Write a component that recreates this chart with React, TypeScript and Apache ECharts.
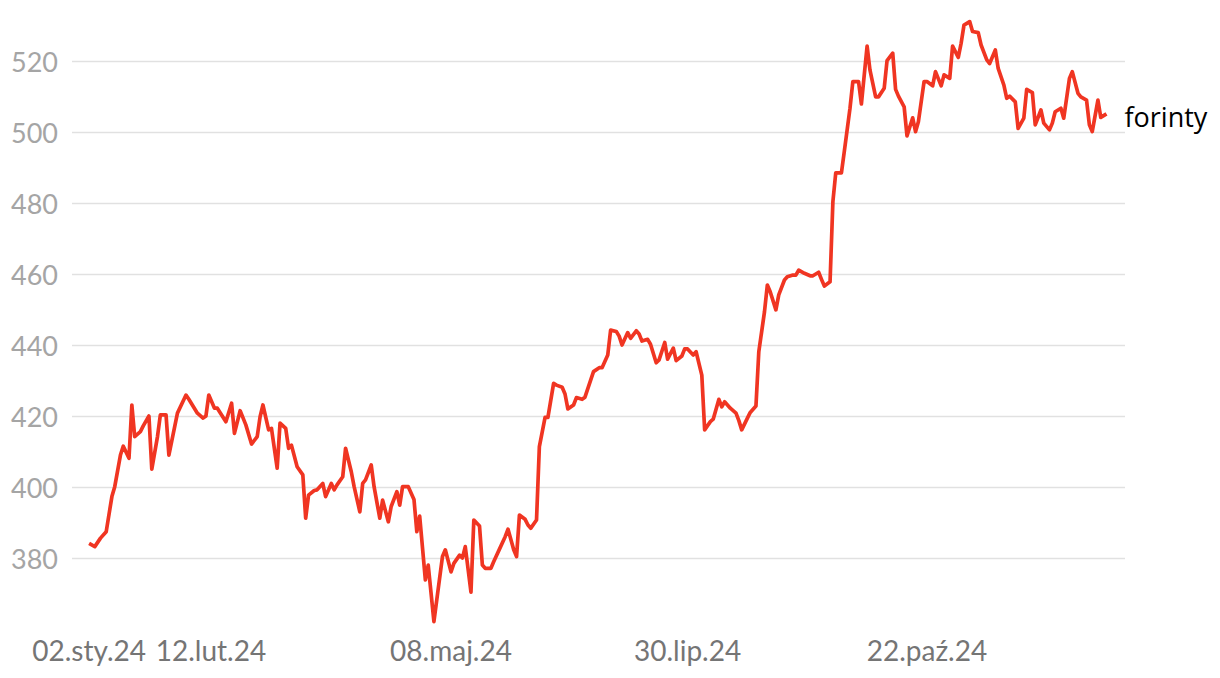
import React, { useEffect, useRef } from "react";
import * as echarts from "echarts";

const dates: string[] = [
  "2024-01-02","2024-01-04","2024-01-06","2024-01-08","2024-01-10","2024-01-11","2024-01-13","2024-01-14","2024-01-16","2024-01-17",
  "2024-01-18","2024-01-20","2024-01-21","2024-01-23","2024-01-24","2024-01-26","2024-01-27","2024-01-29","2024-01-30","2024-02-02",
  "2024-02-05","2024-02-06","2024-02-09","2024-02-11","2024-02-12","2024-02-13","2024-02-15","2024-02-16","2024-02-19","2024-02-21",
  "2024-02-22","2024-02-24","2024-02-26","2024-02-28","2024-03-01","2024-03-02","2024-03-03","2024-03-05","2024-03-06","2024-03-08",
  "2024-03-09","2024-03-11","2024-03-12","2024-03-13","2024-03-15","2024-03-17","2024-03-18","2024-03-19","2024-03-21","2024-03-22",
  "2024-03-24","2024-03-25","2024-03-27","2024-03-28","2024-03-29","2024-03-31","2024-04-01","2024-04-03","2024-04-04","2024-04-06",
  "2024-04-07","2024-04-08","2024-04-10","2024-04-11","2024-04-13","2024-04-14","2024-04-16","2024-04-17","2024-04-19","2024-04-20",
  "2024-04-21","2024-04-23","2024-04-25","2024-04-26","2024-04-27","2024-04-29","2024-04-30","2024-05-02","2024-05-05","2024-05-06",
  "2024-05-08","2024-05-09","2024-05-11","2024-05-12","2024-05-13","2024-05-15","2024-05-16","2024-05-18","2024-05-19","2024-05-20",
  "2024-05-22","2024-05-23","2024-05-25","2024-05-27","2024-05-28","2024-05-30","2024-05-31","2024-06-01","2024-06-03","2024-06-04",
  "2024-06-05","2024-06-07","2024-06-08","2024-06-10","2024-06-11","2024-06-13","2024-06-14","2024-06-16","2024-06-17","2024-06-18",
  "2024-06-20","2024-06-21","2024-06-23","2024-06-24","2024-06-26","2024-06-27","2024-06-29","2024-06-30","2024-07-02","2024-07-03",
  "2024-07-05","2024-07-06","2024-07-07","2024-07-09","2024-07-10","2024-07-12","2024-07-13","2024-07-14","2024-07-16","2024-07-17",
  "2024-07-19","2024-07-20","2024-07-22","2024-07-23","2024-07-25","2024-07-26","2024-07-28","2024-07-29","2024-07-30","2024-08-01",
  "2024-08-02","2024-08-04","2024-08-05","2024-08-07","2024-08-08","2024-08-10","2024-08-11","2024-08-12","2024-08-14","2024-08-16",
  "2024-08-17","2024-08-18","2024-08-20","2024-08-21","2024-08-23","2024-08-24","2024-08-26","2024-08-27","2024-08-28","2024-08-30",
  "2024-08-31","2024-09-02","2024-09-03","2024-09-05","2024-09-06","2024-09-07","2024-09-09","2024-09-11","2024-09-12","2024-09-14",
  "2024-09-15","2024-09-16","2024-09-18","2024-09-19","2024-09-20","2024-09-22","2024-09-23","2024-09-25","2024-09-26","2024-09-28",
  "2024-09-29","2024-10-01","2024-10-02","2024-10-04","2024-10-05","2024-10-07","2024-10-08","2024-10-10","2024-10-11","2024-10-12",
  "2024-10-14","2024-10-15","2024-10-17","2024-10-18","2024-10-19","2024-10-21","2024-10-22","2024-10-24","2024-10-25","2024-10-27",
  "2024-10-28","2024-10-30","2024-10-31","2024-11-02","2024-11-03","2024-11-04","2024-11-06","2024-11-07","2024-11-09","2024-11-10",
  "2024-11-12","2024-11-13","2024-11-15","2024-11-16","2024-11-18","2024-11-19","2024-11-20","2024-11-22","2024-11-23","2024-11-25",
  "2024-11-26","2024-11-28","2024-11-29","2024-12-01","2024-12-02","2024-12-04","2024-12-05","2024-12-06","2024-12-08","2024-12-09",
  "2024-12-11","2024-12-12","2024-12-14","2024-12-15","2024-12-17","2024-12-18","2024-12-19","2024-12-21","2024-12-22","2024-12-24",
];

const values: number[] = [
  384.1,383.2,385.6,387.4,397.3,400.1,409.0,411.5,408.1,423.1,
  414.2,415.6,417.2,420.0,405.0,414.2,420.3,420.3,409.0,420.8,
  425.9,424.7,420.8,419.4,420.0,425.9,422.2,422.2,418.4,423.6,
  415.1,421.5,417.5,412.1,414.2,419.8,423.1,416.1,416.5,405.3,
  418.0,416.5,410.9,411.8,405.7,403.4,391.2,397.7,399.0,399.2,
  401.0,397.3,401.0,399.2,400.6,402.9,410.9,404.3,400.1,393.0,
  401.0,402.0,406.2,400.1,391.2,396.3,390.2,394.5,398.7,394.9,
  400.1,400.1,396.5,387.4,391.8,373.8,378.0,362.1,380.4,382.3,
  376.1,378.5,380.8,380.0,383.2,370.4,390.7,389.0,378.0,377.1,
  377.1,379.0,382.5,386.0,388.1,382.3,380.4,392.1,390.9,389.3,
  388.4,390.7,411.4,419.6,419.6,429.2,428.7,428.1,426.2,422.0,
  423.1,425.2,424.7,425.3,430.1,432.5,433.6,433.6,437.2,444.2,
  443.8,442.5,440.0,443.5,441.9,444.0,443.1,441.1,441.6,440.2,
  435.0,435.8,440.7,436.0,439.1,435.6,436.9,438.9,438.9,437.2,
  438.1,431.5,416.1,418.4,419.1,424.7,422.6,424.0,422.2,420.8,
  418.7,416.1,419.4,421.0,422.8,438.1,449.4,456.9,455.0,449.9,
  454.1,458.3,459.2,459.7,459.7,461.1,460.2,459.5,459.5,460.5,
  458.5,456.6,457.8,480.4,488.5,488.5,494.5,506.7,514.2,514.2,
  507.9,524.2,517.5,509.9,509.9,512.3,520.1,522.2,512.0,510.1,
  507.1,498.9,504.0,500.1,502.9,514.2,514.2,513.0,517.0,513.0,
  516.1,515.1,524.2,521.0,525.0,530.1,531.1,528.3,528.0,524.5,
  520.3,519.3,523.1,517.9,513.2,509.5,510.1,508.5,501.0,503.9,
  512.0,511.1,502.0,506.2,502.5,500.6,502.5,505.7,506.7,503.9,
  515.1,517.0,510.9,509.9,509.0,502.0,500.1,509.0,504.1,505.1,
];

const tickDates: string[] = ["2024-01-02", "2024-02-12", "2024-05-08", "2024-07-30", "2024-10-22"];
const monthNames: string[] = ["sty", "lut", "mar", "kwi", "maj", "cze", "lip", "sie", "wrz", "paź", "lis", "gru"];
const yTicks: number[] = [380, 400, 420, 440, 460, 480, 500, 520];
const seriesLabel = "forinty";

const ts = (s: string) => {
  const [y, m, d] = s.split("-").map(Number);
  return new Date(y, m - 1, d).getTime();
};

const fmtDate = (v: number) => {
  const d = new Date(v);
  const dd = String(d.getDate()).padStart(2, "0");
  const yy = String(d.getFullYear() % 100).padStart(2, "0");
  return `${dd}.${monthNames[d.getMonth()]}.${yy}`;
};

export default function App() {
  const ref = useRef<HTMLDivElement>(null);
  useEffect(() => {
    if (!ref.current) return;
    const chart = echarts.init(ref.current, null, { renderer: "svg" });
    const data = dates.map((d, i) => [ts(d), values[i]]);
    const secondTick = ts(tickDates[1]);
    chart.setOption({
      animation: false,
      backgroundColor: "#ffffff",
      grid: { left: 72, right: 95, top: 18.4, bottom: 49, containLabel: false },
      xAxis: {
        type: "value",
        min: ts("2023-12-27"),
        max: ts("2024-12-30") + 12 * 3600 * 1000,
        axisLine: { show: false },
        axisTick: { show: false },
        splitLine: { show: false },
        axisLabel: {
          customValues: tickDates.map(ts),
          formatter: (v: number) => (v === secondTick ? `{s|${fmtDate(v)}}` : fmtDate(v)),
          color: "#757575",
          fontFamily: "Lato",
          fontSize: 28,
          margin: 7,
          hideOverlap: false,
          rich: {
            s: { color: "#757575", fontFamily: "Lato", fontSize: 28, padding: [0, 0, 0, 10] },
          },
        },
      },
      yAxis: {
        type: "value",
        min: 360,
        max: 532,
        interval: 20,
        axisLine: { show: false },
        axisTick: { show: false },
        splitLine: { show: true, showMinLine: false, showMaxLine: false, lineStyle: { color: "#e1e1e1", width: 1.3 } },
        axisLabel: {
          formatter: (v: number) => (yTicks.includes(v) ? String(v) : ""),
          color: "#a5a5a5",
          fontFamily: "Lato",
          fontSize: 27,
          margin: 14,
        },
      },
      series: [
        {
          type: "line",
          data,
          showSymbol: false,
          symbol: "none",
          lineStyle: { color: "#f03522", width: 3.7, join: "round" },
          itemStyle: { color: "#f03522" },
          endLabel: {
            show: true,
            formatter: seriesLabel,
            color: "#000000",
            fontFamily: "Open Sans",
            fontSize: 27,
            distance: 18,
            offset: [0, 3],
          },
        },
      ],
    });
    return () => chart.dispose();
  }, []);
  return <div ref={ref} style={{ position: "absolute", left: 0, top: 0, width: 1220, height: 678 }} />;
}
